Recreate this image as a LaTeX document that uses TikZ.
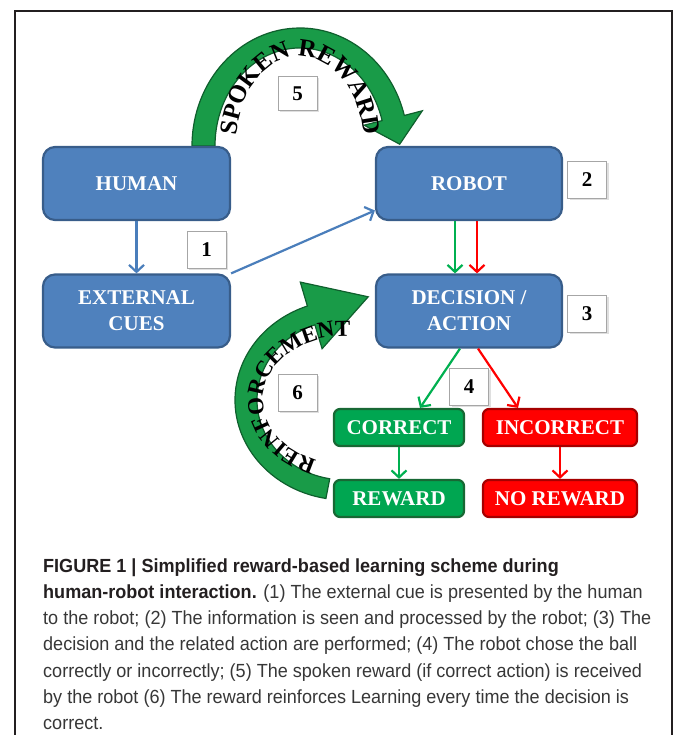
\documentclass[tikz,border=0pt]{standalone}
\usepackage{fontspec}
\setmainfont{Liberation Serif}
\newfontfamily\capfont[FakeStretch=0.95]{Liberation Sans}
\usetikzlibrary{arrows.meta,shadows,decorations.text}
\definecolor{boxblue}{RGB}{79,129,189}
\definecolor{boxblueD}{RGB}{56,93,138}
\definecolor{arrblue}{RGB}{74,126,187}
\definecolor{boxgreen}{RGB}{0,166,81}
\definecolor{boxgreenD}{RGB}{24,104,52}
\definecolor{arrgreen}{RGB}{0,176,80}
\definecolor{boxred}{RGB}{255,0,0}
\definecolor{boxredD}{RGB}{165,0,0}
\definecolor{bigG}{RGB}{25,155,72}
\definecolor{bigGD}{RGB}{15,95,45}
\definecolor{captxt}{RGB}{55,55,55}
\definecolor{framec}{RGB}{35,31,32}
\begin{document}
\begin{tikzpicture}[x=1pt,y=1pt,
  blk/.style={shape=rectangle,rounded corners=12pt,draw=boxblueD,fill=boxblue,line width=2.2pt,minimum width=187pt,minimum height=73pt,text=white,align=center,font=\fontsize{21}{26}\selectfont\bfseries},
  okbox/.style={blk,draw=boxgreenD,fill=boxgreen,rounded corners=6pt,minimum width=130pt,minimum height=37pt},
  badbox/.style={okbox,draw=boxredD,fill=boxred,minimum width=154pt},
  num/.style={shape=rectangle,draw=gray!70,fill=white,line width=0.8pt,minimum width=39pt,minimum height=37pt,font=\fontsize{21}{24}\selectfont\bfseries,drop shadow={opacity=0.25,shadow xshift=2pt,shadow yshift=-2pt}},
  barb/.style={line width=2.2pt,-{Straight Barb[length=7pt,width=15pt]}},
  bluearr/.style={barb,draw=arrblue},
  grnarr/.style={barb,draw=arrgreen},
  redarr/.style={barb,draw=boxred},
  bigarr/.style={fill=bigG,draw=bigGD,line width=1.2pt},
  capline/.style={anchor=base west,inner sep=0pt,text=captxt,font=\capfont\fontsize{19}{22}\selectfont}]
\useasboundingbox (0,0) rectangle (673,-735);
\draw[line width=2.5pt,framec] (15,-735) -- (15,-11) -- (672,-11) -- (672,-735);

\coordinate (sc) at (300,-146);
\coordinate (rc) at (345,-400);

\filldraw[bigarr] (sc) ++(180:108 and 118) arc[start angle=180,end angle=15,x radius=108,y radius=118]
  -- (422.3,-110.8) -- (399.7,-144.2) -- (364.1,-125.2) -- (382.1,-120.6)
  arc[start angle=15,end angle=180,x radius=85,y radius=98] -- cycle;
\path[decorate,decoration={text along path,text align=center,
  text={|\fontsize{25}{28}\selectfont\bfseries|SPOKEN REWARD}}]
  (sc) ++(172:64 and 90) arc[start angle=172,end angle=8,x radius=64,y radius=90];

\filldraw[bigarr] (rc) ++(260:110 and 100) arc[start angle=260,end angle=110,x radius=110,y radius=100]
  -- (300.3,-282.1) -- (368.2,-296.8) -- (322.1,-348.7) -- (314.9,-324.8)
  arc[start angle=110,end angle=260,x radius=88,y radius=80] -- cycle;
\path[decorate,decoration={text along path,text align=center,
  text={|\fontsize{23}{26}\selectfont\bfseries|REINFORCEMENT}}]
  (rc) ++(256:82 and 64) arc[start angle=256,end angle=80,x radius=82,y radius=64];

\node[blk] (human) at (136.5,-183.5) {HUMAN};
\node[blk] (cues) at (136.5,-311) {EXTERNAL\\CUES};
\node[blk,minimum width=186pt] (robot) at (469,-183.5) {ROBOT};
\node[blk,minimum width=186pt] (dec) at (469,-311) {DECISION /\\ACTION};
\node[okbox] (cor) at (399,-427.5) {CORRECT};
\node[badbox] (inc) at (560,-427.5) {INCORRECT};
\node[okbox] (rew) at (399,-498.5) {REWARD};
\node[badbox] (norew) at (560,-498.5) {NO REWARD};

\node[num] (n1) at (206.5,-249.5) {1};
\node[num] (n2) at (587,-180) {2};
\node[num] (n3) at (587,-313.5) {3};
\node[num] (n4) at (469,-386.5) {4};
\node[num,minimum height=34pt] (n5) at (297.5,-93.5) {5};
\node[num] (n6) at (297.5,-392.5) {6};

\draw[bluearr] (human.south) -- (cues.north);
\draw[bluearr] (cues.north east) -- (robot.196);
\draw[grnarr] ([xshift=-14pt]robot.south) -- ([xshift=-14pt]dec.north);
\draw[redarr] ([xshift=8pt]robot.south) -- ([xshift=8pt]dec.north);
\draw[grnarr] ([xshift=-9pt]dec.south) -- ([xshift=21pt]cor.north);
\draw[redarr] ([xshift=9pt]dec.south) -- ([xshift=-42pt]inc.north);
\draw[grnarr] (cor.south) -- (rew.north);
\draw[redarr] (inc.south) -- (norew.north);

\node[capline] (cap1) at (43,-572) {\bfseries\color{framec}FIGURE 1 | Simplified reward-based learning scheme during};
\node[capline] (cap2) at (43,-598.3) {{\bfseries\color{framec}human-robot interaction.} (1) The external cue is presented by the human};
\node[capline] (cap3) at (43,-624.6) {to the robot; (2) The information is seen and processed by the robot; (3) The};
\node[capline] (cap4) at (43,-650.9) {decision and the related action are performed; (4) The robot chose the ball};
\node[capline] (cap5) at (43,-677.2) {correctly or incorrectly; (5) The spoken reward (if correct action) is received};
\node[capline] (cap6) at (43,-703.5) {by the robot (6) The reward reinforces Learning every time the decision is};
\node[capline] (cap7) at (43,-729.8) {correct.};
\end{tikzpicture}
\end{document}
